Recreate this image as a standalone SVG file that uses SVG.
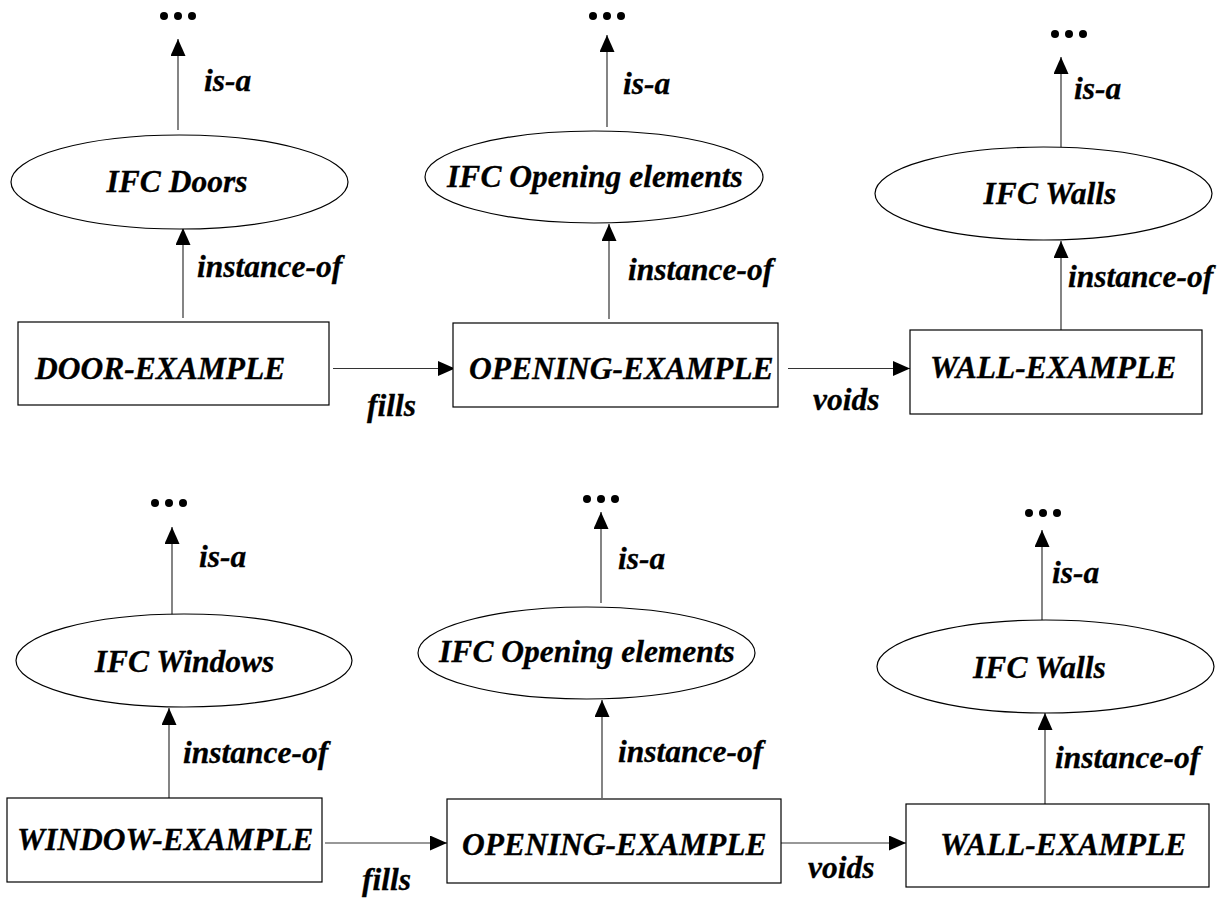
<svg xmlns="http://www.w3.org/2000/svg" width="1228" height="899" viewBox="0 0 1228 899">
<style>
text{font-family:"Liberation Serif","Times New Roman",serif;font-weight:bold;font-style:italic;font-size:31.5px;fill:#000;stroke:#000;stroke-width:0.3}
.mid{text-anchor:middle}
.shape{fill:#fff;stroke:#000;stroke-width:1.2}
.edge{stroke:#333;stroke-width:1.2;fill:none;marker-end:url(#arr)}
.dot{fill:#000}
</style>
<defs>
<marker id="arr" markerUnits="userSpaceOnUse" markerWidth="17" markerHeight="15" refX="17" refY="7.5" orient="auto" viewBox="0 0 17 15">
<path d="M0,0 L17,7.5 L0,15 z" fill="#000"/>
</marker>
</defs>
<rect width="1228" height="899" fill="#fff"/>
<g id="connectors">
<line class="edge" x1="178" y1="130" x2="178" y2="39"/>
<line class="edge" x1="183" y1="318" x2="183" y2="228"/>
<line class="edge" x1="607" y1="127" x2="607" y2="35"/>
<line class="edge" x1="609" y1="319" x2="609" y2="224"/>
<line class="edge" x1="1061" y1="147" x2="1061" y2="57"/>
<line class="edge" x1="1061" y1="331" x2="1061" y2="241"/>
<line class="edge" x1="333" y1="368.5" x2="455" y2="368.5"/>
<line class="edge" x1="788" y1="368.5" x2="910" y2="368.5"/>
<line class="edge" x1="172" y1="618" x2="172" y2="527"/>
<line class="edge" x1="169" y1="798" x2="169" y2="708"/>
<line class="edge" x1="601" y1="603" x2="601" y2="512"/>
<line class="edge" x1="602" y1="798" x2="602" y2="700"/>
<line class="edge" x1="1042" y1="620" x2="1042" y2="530"/>
<line class="edge" x1="1045" y1="804" x2="1045" y2="713"/>
<line class="edge" x1="325" y1="843" x2="447" y2="843"/>
<line class="edge" x1="781" y1="843" x2="906" y2="843"/>
<text x="204" y="91">is-a</text>
<text x="197" y="277">instance-of</text>
<text x="623" y="94">is-a</text>
<text x="628" y="280">instance-of</text>
<text x="1074" y="99">is-a</text>
<text x="1068" y="287">instance-of</text>
<text x="367" y="416">fills</text>
<text x="813" y="410">voids</text>
<text x="199" y="567">is-a</text>
<text x="183" y="763">instance-of</text>
<text x="618" y="569">is-a</text>
<text x="618" y="762">instance-of</text>
<text x="1052" y="583">is-a</text>
<text x="1055" y="768">instance-of</text>
<text x="362" y="890">fills</text>
<text x="808" y="878">voids</text>
</g>
<g id="dots-1"><circle class="dot" cx="164" cy="16" r="4"/><circle class="dot" cx="178" cy="16" r="4"/><circle class="dot" cx="192" cy="16" r="4"/></g>
<g id="dots-2"><circle class="dot" cx="593" cy="16" r="4"/><circle class="dot" cx="607" cy="16" r="4"/><circle class="dot" cx="621" cy="16" r="4"/></g>
<g id="dots-3"><circle class="dot" cx="1055" cy="34" r="4"/><circle class="dot" cx="1069" cy="34" r="4"/><circle class="dot" cx="1083" cy="34" r="4"/></g>
<g id="dots-4"><circle class="dot" cx="155" cy="503" r="4"/><circle class="dot" cx="169" cy="503" r="4"/><circle class="dot" cx="183" cy="503" r="4"/></g>
<g id="dots-5"><circle class="dot" cx="587" cy="499" r="4"/><circle class="dot" cx="601" cy="499" r="4"/><circle class="dot" cx="615" cy="499" r="4"/></g>
<g id="dots-6"><circle class="dot" cx="1029" cy="513" r="4"/><circle class="dot" cx="1043" cy="513" r="4"/><circle class="dot" cx="1057" cy="513" r="4"/></g>
<g id="ifc-doors"><ellipse class="shape" cx="179.5" cy="182" rx="168.5" ry="47"/><text class="mid" x="177" y="192">IFC Doors</text></g>
<g id="ifc-opening-1"><ellipse class="shape" cx="594" cy="177" rx="169" ry="46"/><text class="mid" x="595" y="187">IFC Opening elements</text></g>
<g id="ifc-walls-1"><ellipse class="shape" cx="1043.5" cy="193.5" rx="168.5" ry="46.5"/><text class="mid" x="1050" y="204">IFC Walls</text></g>
<g id="door-example"><rect class="shape" x="18" y="322" width="311" height="83"/><text x="35" y="379">DOOR-EXAMPLE</text></g>
<g id="opening-example-1"><rect class="shape" x="453" y="323" width="325" height="84"/><text x="469" y="379">OPENING-EXAMPLE</text></g>
<g id="wall-example-1"><rect class="shape" x="910" y="330" width="292" height="84"/><text x="930" y="378">WALL-EXAMPLE</text></g>
<g id="ifc-windows"><ellipse class="shape" cx="184" cy="660.5" rx="168" ry="46.5"/><text class="mid" x="184.5" y="672">IFC Windows</text></g>
<g id="ifc-opening-2"><ellipse class="shape" cx="586.5" cy="653" rx="168.5" ry="46"/><text class="mid" x="587" y="662">IFC Opening elements</text></g>
<g id="ifc-walls-2"><ellipse class="shape" cx="1045.5" cy="666.5" rx="168.5" ry="46.5"/><text class="mid" x="1039.5" y="678">IFC Walls</text></g>
<g id="window-example"><rect class="shape" x="7" y="798" width="315" height="84"/><text x="17" y="850">WINDOW-EXAMPLE</text></g>
<g id="opening-example-2"><rect class="shape" x="447" y="799" width="334" height="84"/><text x="462" y="855">OPENING-EXAMPLE</text></g>
<g id="wall-example-2"><rect class="shape" x="906" y="804" width="303" height="83"/><text x="940" y="855">WALL-EXAMPLE</text></g>
</svg>
